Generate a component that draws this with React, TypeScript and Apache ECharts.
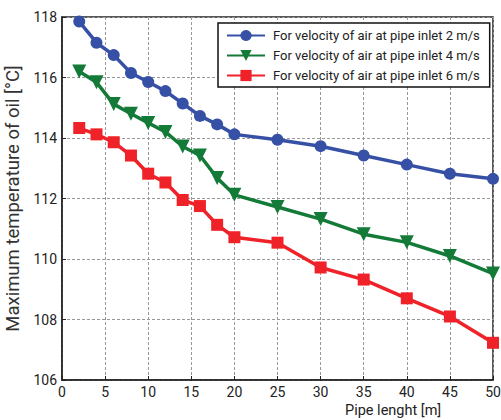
import React, { useEffect, useRef } from "react";
import * as echarts from "echarts";

const pipeLength = [2, 4, 6, 8, 10, 12, 14, 16, 18, 20, 25, 30, 35, 40, 45, 50];
const temp2 = [117.85, 117.15, 116.74, 116.15, 115.85, 115.55, 115.14, 114.73, 114.45, 114.12, 113.94, 113.73, 113.42, 113.12, 112.82, 112.65];
const temp4 = [116.2, 115.84, 115.12, 114.8, 114.5, 114.2, 113.72, 113.42, 112.68, 112.12, 111.72, 111.32, 110.82, 110.55, 110.1, 109.52];
const temp6 = [114.33, 114.12, 113.86, 113.42, 112.82, 112.53, 111.95, 111.75, 111.13, 110.72, 110.54, 109.72, 109.32, 108.7, 108.1, 107.23];
const seriesNames = [
  "For velocity of air at pipe inlet 2 m/s",
  "For velocity of air at pipe inlet 4 m/s",
  "For velocity of air at pipe inlet 6 m/s",
];
const xTitle = "Pipe lenght [m]";
const yTitle = "Maximum temperature of oil [°C]";

const FONT = "Roboto, 'Liberation Sans', sans-serif";

export default function App() {
  const ref = useRef<HTMLDivElement>(null);
  useEffect(() => {
    const chart = echarts.init(ref.current!, null, { renderer: "svg" });
    const mk = (vals: number[]) => pipeLength.map((x, i) => [x, vals[i]]);
    const colors = ["#3650a5", "#137a38", "#ee2228"];
    const symbols = ["circle", "triangle", "rect"];
    const datas = [temp2, temp4, temp6];
    chart.setOption({
      animation: false,
      grid: {
        left: 62,
        right: 8,
        top: 17,
        bottom: 40,
        containLabel: false,
        outerBoundsMode: "none",
        show: true,
        borderColor: "#222",
        borderWidth: 1.5,
        backgroundColor: "transparent",
      },
      legend: {
        left: 218,
        top: 23,
        orient: "vertical",
        backgroundColor: "#fff",
        borderColor: "#111",
        borderWidth: 1.5,
        borderRadius: 0,
        padding: [6, 10, 5, 8],
        itemWidth: 38,
        itemHeight: 14,
        itemGap: 7,
        textStyle: { fontFamily: FONT, fontSize: 13, color: "#222", padding: [0, 0, 0, 3] },
        data: seriesNames,
      },
      graphic: [
        {
          type: "text",
          left: 345,
          top: 403,
          style: { text: xTitle, fontFamily: FONT, fontSize: 14.5, fill: "#222" },
        },
      ],
      xAxis: {
        type: "value",
        min: 0,
        max: 50,
        interval: 5,
        axisLine: { show: true, lineStyle: { color: "#222", width: 1.5 } },
        axisTick: { show: true, inside: true, length: 4, lineStyle: { color: "#222" } },
        axisLabel: { fontFamily: FONT, fontSize: 14, color: "#222", margin: 5 },
        splitLine: { show: true, lineStyle: { color: "#999", type: [3, 2], width: 1 } },
      },
      yAxis: {
        type: "value",
        min: 106,
        max: 118,
        interval: 2,
        name: yTitle,
        nameLocation: "middle",
        nameGap: 16,
        nameTextStyle: { fontFamily: FONT, fontSize: 18.5, color: "#333" },
        axisLine: { show: true, lineStyle: { color: "#222", width: 1.5 } },
        axisTick: { show: true, inside: true, length: 4, lineStyle: { color: "#222" } },
        axisLabel: { fontFamily: FONT, fontSize: 14, color: "#222", margin: 5 },
        splitLine: { show: true, lineStyle: { color: "#999", type: [3, 2], width: 1 } },
      },
      series: datas.map((d, i) => ({
        name: seriesNames[i],
        type: "line",
        data: mk(d),
        symbol: symbols[i],
        symbolSize: i === 1 ? 14 : 12,
        symbolRotate: i === 1 ? 180 : 0,
        showAllSymbol: true,
        clip: false,
        lineStyle: { color: colors[i], width: 3.5 },
        itemStyle: { color: colors[i] },
        z: 3 - i,
      })),
    });
    return () => chart.dispose();
  }, []);
  return <div ref={ref} style={{ width: 501, height: 420, position: "absolute", left: 0, top: 0 }} />;
}
